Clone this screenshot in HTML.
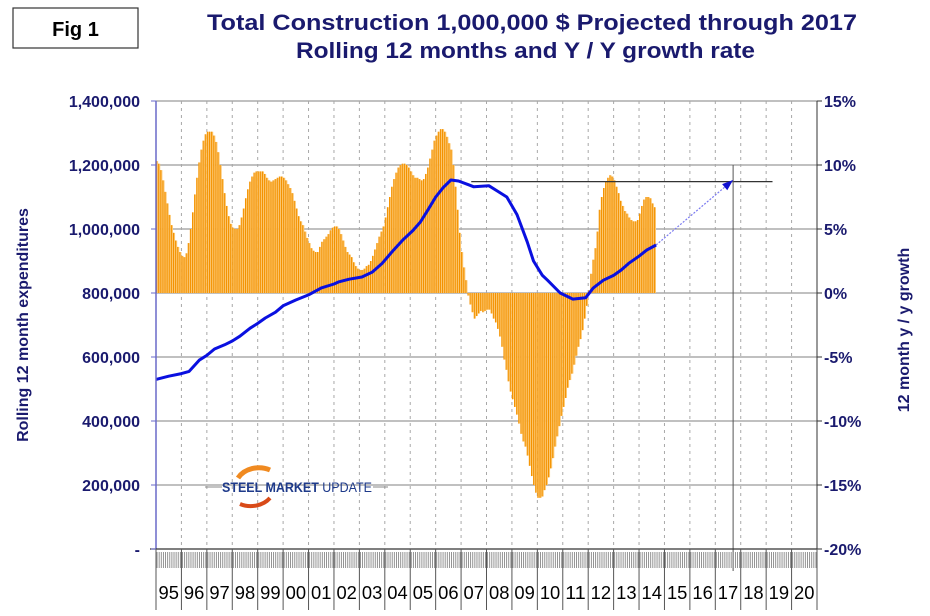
<!DOCTYPE html>
<html><head><meta charset="utf-8"><style>
body{margin:0;background:#fff;}
svg{display:block;font-family:"Liberation Sans",Arial,sans-serif;}
</style></head><body>
<svg id="chart" width="930" height="616" viewBox="0 0 930 616" xmlns="http://www.w3.org/2000/svg">
<rect x="0" y="0" width="930" height="616" fill="#fff"/>
<g>
<rect x="13" y="8" width="125" height="40" fill="#fff" stroke="#333" stroke-width="1.2"/>
<text x="75.5" y="36" text-anchor="middle" font-size="20" font-weight="bold" fill="#000">Fig 1</text>
</g>
<text x="207" y="30" font-size="22" font-weight="bold" fill="#1a1a6e" textLength="650" lengthAdjust="spacingAndGlyphs">Total Construction 1,000,000 $ Projected through 2017</text>
<text x="296" y="58" font-size="22" font-weight="bold" fill="#1a1a6e" textLength="459" lengthAdjust="spacingAndGlyphs">Rolling 12 months and Y / Y growth rate</text>
<text transform="translate(28,325) rotate(-90)" text-anchor="middle" font-size="16" font-weight="bold" fill="#1a1a6e">Rolling 12 month expenditures</text>
<text transform="translate(909,330) rotate(-90)" text-anchor="middle" font-size="16" font-weight="bold" fill="#1a1a6e">12 month y / y growth</text>
<g id="grid"></g>
<g id="bars"></g>
<g id="overlay"></g>
<g id="axes"></g>
<g>
<path d="M238 478 A24 20 0 0 1 270 470" fill="none" stroke="#f08a20" stroke-width="5"/>
<path d="M270 498 A24 20 0 0 1 240 504" fill="none" stroke="#d84a18" stroke-width="4"/>
<line x1="205" y1="487" x2="222" y2="487" stroke="#888" stroke-width="1"/>
<line x1="373" y1="487" x2="388" y2="487" stroke="#888" stroke-width="1"/>
<text x="222" y="492" font-size="14" font-weight="bold" fill="#1e3a8a" textLength="150" lengthAdjust="spacingAndGlyphs">STEEL MARKET <tspan font-weight="normal">UPDATE</tspan></text>
</g>
</svg>
<script>
const years = ["95","96","97","98","99","00","01","02","03","04","05","06","07","08","09","10","11","12","13","14","15","16","17","18","19","20"];
const leftTicks = ["-","200,000","400,000","600,000","800,000","1,000,000","1,200,000","1,400,000"];
const rightTicks = ["-20%","-15%","-10%","-5%","0%","5%","10%","15%"];
const growthPct = [
10.3,10.1,9.6,8.8,7.9,7.0,6.1,5.3,4.7,4.1,3.6,3.2,
2.9,2.8,3.1,3.9,5.0,6.3,7.7,9.0,10.2,11.2,11.9,12.4,
12.6,12.6,12.6,12.3,11.8,11.0,10.0,8.9,7.8,6.8,6.0,5.4,
5.1,5.0,5.0,5.3,5.9,6.6,7.4,8.1,8.7,9.1,9.4,9.5,
9.5,9.5,9.5,9.3,9.0,8.8,8.7,8.8,8.9,9.0,9.1,9.1,
9.0,8.8,8.5,8.2,7.8,7.2,6.6,6.0,5.6,5.3,4.8,4.3,
3.9,3.5,3.3,3.2,3.2,3.6,4.0,4.2,4.4,4.6,4.9,5.1,
5.2,5.2,5.0,4.6,4.1,3.6,3.2,3.0,2.8,2.4,2.1,1.9,
1.8,1.8,1.9,2.1,2.2,2.5,2.9,3.4,3.9,4.4,4.8,5.2,
5.9,6.7,7.5,8.3,8.9,9.4,9.8,10.0,10.1,10.1,10.0,9.8,
9.5,9.2,9.0,9.0,8.9,8.8,8.9,9.3,9.8,10.5,11.2,11.9,
12.3,12.6,12.8,12.8,12.6,12.2,11.7,11.2,10.0,8.3,6.5,4.7,
3.2,2.0,1.0,-0.2,-0.9,-1.5,-2.0,-1.8,-1.6,-1.4,-1.5,-1.4,
-1.3,-1.3,-1.6,-2.0,-2.3,-2.8,-3.4,-4.2,-5.2,-6.0,-6.9,-7.7,
-8.3,-8.9,-9.5,-10.2,-11.0,-11.6,-12.0,-12.7,-13.5,-14.3,-15.0,-15.6,
-16.0,-16.0,-15.9,-15.4,-15.0,-14.4,-13.7,-12.9,-12.0,-11.2,-10.4,-9.6,
-8.9,-8.2,-7.4,-6.8,-6.3,-5.6,-4.9,-4.2,-3.6,-2.9,-2.0,-1.0,
0.2,1.5,2.6,3.5,4.8,6.5,7.5,8.2,8.7,9.0,9.2,9.1,
8.8,8.3,7.8,7.2,6.8,6.4,6.2,5.9,5.7,5.6,5.6,5.7,
6.2,6.8,7.3,7.5,7.5,7.4,7.0,6.7];
const rollT = [0,0.5,1.0,1.3,1.7,2.0,2.3,2.7,3.0,3.3,3.7,4.0,4.3,4.7,5.0,5.5,6.0,6.5,7.0,7.2,7.6,8.1,8.5,8.9,9.3,9.7,10.1,10.4,10.7,11.0,11.3,11.6,11.9,12.3,12.5,13.1,13.4,13.8,14.2,14.6,14.85,15.2,15.4,15.9,16.4,16.9,17.2,17.6,18.0,18.3,18.6,19.0,19.3,19.67];
const rollVal = [530,540,548,555,590,605,625,638,650,665,690,705,722,740,760,778,794,816,828,835,843,850,865,893,930,965,995,1022,1060,1100,1130,1153,1150,1138,1132,1135,1120,1100,1045,960,900,855,840,800,781,785,816,840,855,872,893,915,934,950];
const projT = [19.67,22.7];
const projVal = [950,1153];
const targetLevel = [1148];

const NS="http://www.w3.org/2000/svg";
const X0=156,X1=817,Y0=549,Y1=101;
const yearW=(X1-X0)/years.length;
const xT=t=>X0+t*yearW;
const yL=v=>Y0-(v/1400)*(Y0-Y1);
const yR=p=>Y0-((p+20)/35)*(Y0-Y1);
function mk(tag,attrs,parent){const e=document.createElementNS(NS,tag);for(const k in attrs)e.setAttribute(k,attrs[k]);parent.appendChild(e);return e;}
const grid=document.getElementById('grid'),bars=document.getElementById('bars'),ov=document.getElementById('overlay'),axes=document.getElementById('axes');

for(let i=1;i<leftTicks.length;i++){
  const y=yL(i*200);
  const g=mk('line',{x1:X0,x2:X1,y1:y,y2:y,stroke:'#9a9a9a','stroke-width':1.2},grid);
  
  
}
for(let i=1;i<years.length;i++){
  const x=xT(i);
  const g=mk('line',{x1:x,x2:x,y1:Y1,y2:Y0,stroke:'#a8a8a8','stroke-width':1,'stroke-dasharray':'3,4'},grid);
  
  
}
const mw=yearW/12;
growthPct.forEach((p,i)=>{
  const x=xT(i/12);
  const y0=yR(0),y=yR(p);
  const top=Math.min(y0,y),h=Math.abs(y-y0);
  const b=mk('rect',{x:x,y:top,width:mw,height:h,fill:'#fcc66e'},bars);
  
  
  const d=mk('rect',{x:x,y:top,width:mw*0.5,height:h,fill:'#f39200'},bars);
  
  
});
const tl=mk('line',{x1:xT(12.4),x2:xT(24.25),y1:yL(targetLevel[0]),y2:yL(targetLevel[0]),stroke:'#333','stroke-width':1.2},ov);


const pv=mk('line',{x1:xT(projT[1]),x2:xT(projT[1]),y1:yL(1200),y2:Y0+22,stroke:'#555','stroke-width':1},ov);


const pts=rollT.map((t,i)=>xT(t).toFixed(1)+','+yL(rollVal[i]).toFixed(1)).join(' ');
const rl=mk('polyline',{points:pts,fill:'none',stroke:'#0a10e0','stroke-width':3,'stroke-linejoin':'round'},ov);


const px1=xT(projT[0]),py1=yL(projVal[0]),px2=xT(projT[1]),py2=yL(projVal[1]);
const pl=mk('line',{x1:px1,y1:py1,x2:px2,y2:py2,stroke:'#7a7af0','stroke-width':1.2,'stroke-dasharray':'2,1.5'},ov);


const ang=Math.atan2(py2-py1,px2-px1);
const ah=[[px2,py2],[px2-11*Math.cos(ang)+4*Math.sin(ang),py2-11*Math.sin(ang)-4*Math.cos(ang)],[px2-11*Math.cos(ang)-4*Math.sin(ang),py2-11*Math.sin(ang)+4*Math.cos(ang)]];
const ar=mk('polygon',{points:ah.map(p=>p.join(',')).join(' '),fill:'#1010d0'},ov);



const la=mk('line',{x1:X0,x2:X0,y1:Y1,y2:Y0,stroke:'#6a6ac8','stroke-width':1.5},axes);


const ra=mk('line',{x1:X1,x2:X1,y1:Y1,y2:Y0+2,stroke:'#333','stroke-width':1},axes);


const xa=mk('line',{x1:X0-6,x2:X1,y1:Y0,y2:Y0,stroke:'#333','stroke-width':1.2},axes);


leftTicks.forEach((s,i)=>{
  const y=yL(i*200);
  const t=mk('text',{x:140,y:y+6,'text-anchor':'end','font-size':16,'font-weight':'bold',fill:'#1a1a6e'},axes);
  t.textContent=s;
  
  
  const k=mk('line',{x1:X0-5,x2:X0,y1:y,y2:y,stroke:'#6a6ac8'},axes);
  
  
});
rightTicks.forEach((s,i)=>{
  const y=yR(-20+i*5);
  const t=mk('text',{x:824,y:y+6,'font-size':16,'font-weight':'bold',fill:'#1a1a6e'},axes);
  t.textContent=s;
  
  
  const k=mk('line',{x1:X1,x2:X1+5,y1:y,y2:y,stroke:'#333'},axes);
  
  
});
for(let m=0;m<years.length*12;m++){
  const x=xT(m/12)+mw/2;
  const k=mk('line',{x1:x,x2:x,y1:Y0+3,y2:Y0+19,stroke:'#888','stroke-width':0.9},axes);
  
  
}
for(let i=0;i<=years.length;i++){
  const x=xT(i);
  const k=mk('line',{x1:x,x2:x,y1:Y0,y2:610,stroke:'#555','stroke-width':1},axes);
  
  
}
years.forEach((s,i)=>{
  const t=mk('text',{x:xT(i+0.5),y:599,'text-anchor':'middle','font-size':18,fill:'#000',textLength:yearW-5,lengthAdjust:'spacingAndGlyphs'},axes);
  t.textContent=s;
  
  
});
</script>
</body></html>
